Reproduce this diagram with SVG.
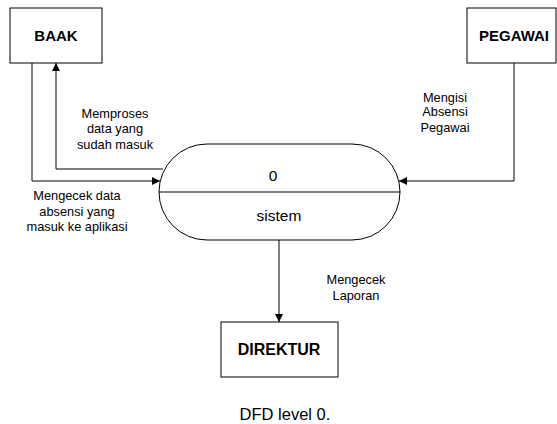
<svg xmlns="http://www.w3.org/2000/svg" width="557" height="424" viewBox="0 0 557 424">
<defs>
<marker id="arr" viewBox="0 0 10 10" refX="10" refY="5" markerWidth="8" markerHeight="8" markerUnits="userSpaceOnUse" orient="auto">
<path d="M0,0 L10,5 L0,10 Z" fill="#000"/>
</marker>
<style>
.box{fill:#fff;stroke:#000;stroke-width:1}
.ent{font-family:"Liberation Sans",Arial,sans-serif;font-weight:bold;font-size:15px;fill:#000;text-anchor:middle}
.lbl{font-family:"Liberation Sans",Arial,sans-serif;font-size:12.8px;fill:#000;text-anchor:middle}
.proc{font-family:"Liberation Sans",Arial,sans-serif;font-size:15.5px;fill:#000;text-anchor:middle}
.edge{fill:none;stroke:#000;stroke-width:1;marker-end:url(#arr)}
</style>
</defs>
<rect width="557" height="424" fill="#fff"/>
<g id="connectors">
<path class="edge" d="M32,63 V181 H160"/>
<path class="edge" d="M163,169 H56 V63"/>
<path class="edge" d="M514,63 V181 H399"/>
<path class="edge" d="M279,240 V322"/>
</g>
<g id="baak">
<rect class="box" x="10" y="8" width="92" height="55"/>
<text class="ent" x="56" y="41">BAAK</text>
</g>
<g id="pegawai">
<rect class="box" x="467" y="8" width="89" height="55"/>
<text class="ent" x="514" y="41">PEGAWAI</text>
</g>
<g id="sistem">
<rect class="box" x="159" y="144" width="241" height="96" rx="48" ry="48"/>
<line x1="159" y1="192" x2="400" y2="192" stroke="#000" stroke-width="1"/>
<text class="proc" x="273" y="181">0</text>
<text class="proc" x="279" y="221">sistem</text>
</g>
<g id="direktur">
<rect class="box" x="221" y="322" width="117" height="55"/>
<text class="ent" x="279" y="355" style="font-size:16px">DIREKTUR</text>
</g>
<g id="labels">
<text class="lbl"><tspan x="115" y="118">Memproses</tspan><tspan x="115" y="133">data yang</tspan><tspan x="115" y="149">sudah masuk</tspan></text>
<text class="lbl"><tspan x="77" y="200">Mengecek data</tspan><tspan x="77" y="216">absensi yang</tspan><tspan x="77" y="231">masuk ke aplikasi</tspan></text>
<text class="lbl"><tspan x="445" y="102">Mengisi</tspan><tspan x="445" y="116">Absensi</tspan><tspan x="445" y="132">Pegawai</tspan></text>
<text class="lbl"><tspan x="356" y="284">Mengecek</tspan><tspan x="356" y="300">Laporan</tspan></text>
<text class="lbl" x="285" y="420" style="font-size:16.5px">DFD level 0.</text>
</g>
</svg>
